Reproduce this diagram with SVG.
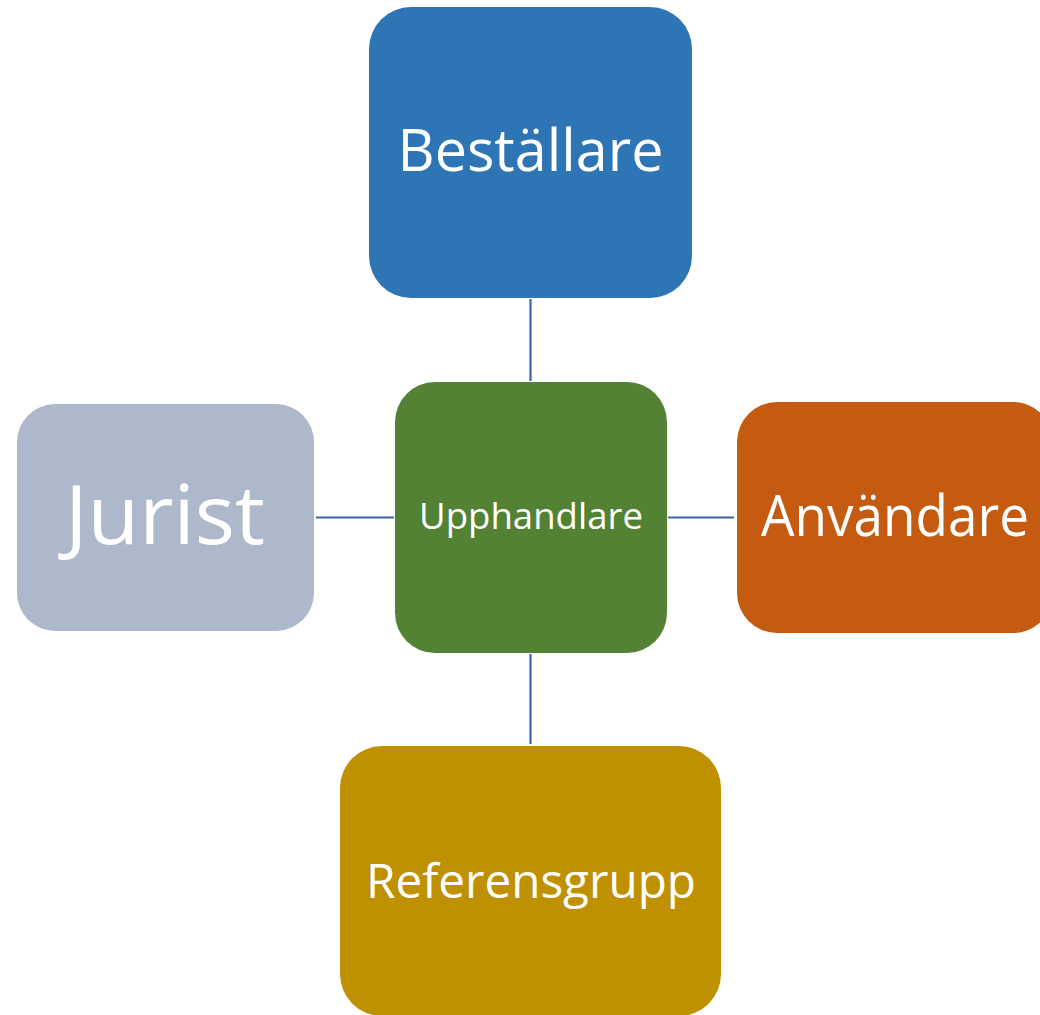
<svg xmlns="http://www.w3.org/2000/svg" width="1040" height="1015" viewBox="0 0 1040 1015">
  <style>
    .box { stroke: none; }
    .lbl { font-family: "Open Sans", "Noto Sans", sans-serif; fill: #ffffff; text-anchor: middle; }
    .conn { stroke: #3F61A8; stroke-width: 2.2; fill: none; }
  </style>
  <rect width="1040" height="1015" fill="#ffffff"/>
  <g id="connectors">
    <line class="conn" x1="530.5" y1="299" x2="530.5" y2="381"/>
    <line class="conn" x1="530.5" y1="654" x2="530.5" y2="744"/>
    <line class="conn" x1="316" y1="517.5" x2="394" y2="517.5"/>
    <line class="conn" x1="668" y1="517.5" x2="734" y2="517.5"/>
  </g>
  <g id="node-bestallare">
    <rect class="box" x="369" y="7" width="323" height="291" rx="42" ry="42" fill="#2E75B6"/>
    <text class="lbl" x="530.5" y="171" font-size="59" textLength="266" lengthAdjust="spacingAndGlyphs">Beställare</text>
  </g>
  <g id="node-upphandlare">
    <rect class="box" x="395" y="382" width="272" height="271" rx="40" ry="40" fill="#548235"/>
    <text class="lbl" x="531" y="529" font-size="36" textLength="224" lengthAdjust="spacingAndGlyphs">Upphandlare</text>
  </g>
  <g id="node-jurist">
    <rect class="box" x="17" y="404" width="297" height="227" rx="38" ry="38" fill="#ADB9CA"/>
    <text class="lbl" x="165" y="544" font-size="83" textLength="200" lengthAdjust="spacingAndGlyphs">Jurist</text>
  </g>
  <g id="node-anvandare">
    <rect class="box" x="737" y="402" width="316" height="231" rx="40" ry="40" fill="#C55A11"/>
    <text class="lbl" x="895" y="536" font-size="56" textLength="268" lengthAdjust="spacingAndGlyphs">Användare</text>
  </g>
  <g id="node-referensgrupp">
    <rect class="box" x="340" y="746" width="381" height="270" rx="42" ry="42" fill="#BF9000"/>
    <text class="lbl" x="531" y="898" font-size="48" textLength="330" lengthAdjust="spacingAndGlyphs">Referensgrupp</text>
  </g>
</svg>
